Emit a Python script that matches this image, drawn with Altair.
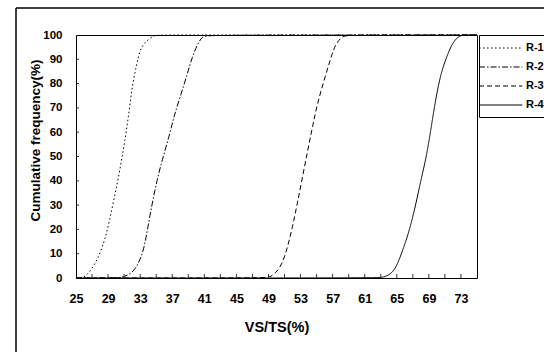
import altair as alt
import pandas as pd

series = ["R-1", "R-2", "R-3", "R-4"]

r1_x = [25, 25.6, 26.1, 26.9, 27.75, 28.6, 29.2, 29.8, 30.4, 30.9, 31.3, 31.7, 32.0, 32.5, 32.95, 33.6, 34.8, 35.4, 75]
r1_y = [0, 0, 0.5, 3.3, 8.1, 15.6, 23.9, 33.5, 43.1, 52.7, 60.9, 70.5, 78.7, 87, 93.8, 97.2, 100, 100, 100]

r2_x = [25, 30.4, 30.95, 32.0, 32.8, 33.45, 33.9, 34.5, 35.1, 35.75, 36.6, 37.2, 38.0, 38.9, 39.5, 40.1, 40.75, 41.3, 75]
r2_y = [0, 0, 0.5, 1.9, 6, 11.5, 19.8, 30.7, 40.3, 48.6, 58.1, 66.4, 74.6, 84.2, 91, 95.9, 99.5, 100, 100]

r3_x = [25, 48.6, 49.1, 49.9, 50.75, 51.4, 52.0, 52.6, 53.25, 53.9, 54.5, 55.1, 55.95, 56.8, 57.4, 58.25, 58.8, 75]
r3_y = [0, 0, 0.3, 1.9, 6, 12.9, 21.1, 30.7, 41.7, 52.7, 62.3, 71.9, 81.5, 91, 96.6, 99.5, 100, 100]

r4_x = [25, 62.7, 63.25, 64.1, 64.9, 65.75, 66.6, 67.4, 68.0, 68.7, 69.3, 69.9, 70.5, 71.2, 72.0, 72.8, 73.4, 75]
r4_y = [0, 0, 0.3, 1.2, 4, 11.5, 19.8, 30.7, 40.3, 49.9, 62.3, 74.6, 84.2, 91, 97.2, 99.7, 100, 100]

x_labels = [25, 29, 33, 37, 41, 45, 49, 53, 57, 61, 65, 69, 73]
x_ticks = [27, 29, 31, 33, 35, 37, 39, 41, 43, 45, 47, 49, 51, 53, 55, 57, 59, 61, 63, 65, 67, 69, 71, 73]
y_labels = [0, 10, 20, 30, 40, 50, 60, 70, 80, 90, 100]
y_ticks = [10, 20, 30, 40, 50, 60, 70, 80, 90]

dashes = [[1.5, 2.5], [6, 2, 1.5, 2], [5, 3], [1, 0]]

rows = []
for name, xs, ys in zip(series, [r1_x, r2_x, r3_x, r4_x], [r1_y, r2_y, r3_y, r4_y]):
    for x, y in zip(xs, ys):
        rows.append({"vs": x, "freq": y, "series": name})
df = pd.DataFrame(rows)

W, H = 401, 243
FONT = "Liberation Sans"

xscale = alt.Scale(domain=[25, 75], nice=False, zero=False)
yscale = alt.Scale(domain=[0, 100], nice=False)

x_axis = alt.Axis(values=x_labels, title="VS/TS(%)", grid=False, domain=False, tickSize=0,
                  labelOverlap=False, labelFlush=False,
                  labelFontSize=12.5, labelFontWeight="bold", labelPadding=14,
                  labelFont=FONT, titleFont=FONT, titleFontSize=14.5, titleFontWeight="bold",
                  titlePadding=16, labelColor="black", titleColor="black")
y_axis = alt.Axis(values=y_labels, title="Cumulative frequency(%)", grid=False, domain=False,
                  labelOverlap=False, labelFlush=False,
                  tickSize=0, labelFontSize=11.5, labelFontWeight="bold", labelPadding=14,
                  labelFont=FONT, titleFont=FONT, titleFontSize=13.5, titleFontWeight="bold",
                  titleX=-34, titleY=105, titleAngle=270, titleAlign="center", titleBaseline="bottom",
                  labelColor="black", titleColor="black")

lines = alt.Chart(df).mark_line(interpolate="basis", color="black", strokeWidth=1).encode(
    x=alt.X("vs:Q", scale=xscale, axis=x_axis),
    y=alt.Y("freq:Q", scale=yscale, axis=y_axis),
    strokeDash=alt.StrokeDash("series:N", scale=alt.Scale(domain=series, range=dashes),
                              legend=alt.Legend(orient="none", legendX=403, legendY=0, title=None,
                                                strokeColor="black", padding=7,
                                                symbolType="M-2.4,0H5.6", symbolSize=117,
                                                symbolStrokeWidth=1, symbolStrokeColor="black",
                                                symbolFillColor="transparent",
                                                labelOffset=28, labelFontSize=11, labelFontWeight="bold",
                                                labelFont=FONT, labelColor="black", rowPadding=8)),
)

xt = alt.Chart(pd.DataFrame({"vs": x_ticks})).mark_rule(color="#333", strokeWidth=1).encode(
    x=alt.X("vs:Q", scale=xscale, axis=x_axis), y=alt.value(H - 4), y2=alt.value(H))
yt = alt.Chart(pd.DataFrame({"freq": y_ticks})).mark_rule(color="#333", strokeWidth=1).encode(
    y=alt.Y("freq:Q", scale=yscale, axis=y_axis), x=alt.value(0), x2=alt.value(3))

one = pd.DataFrame({"a": [0]})
frame_top = alt.Chart(one).mark_rule(color="black", strokeWidth=1.5).encode(
    x=alt.value(-60), x2=alt.value(480), y=alt.value(-27))
frame_left = alt.Chart(one).mark_rule(color="black", strokeWidth=1.5).encode(
    x=alt.value(-60), y=alt.value(-27), y2=alt.value(330))

chart = alt.layer(lines, xt, yt, frame_top, frame_left).properties(
    width=W, height=H,
    autosize=alt.AutoSizeParams(type="none"),
    padding={"left": 76, "top": 35, "right": 67, "bottom": 74},
    background="white",
).configure_view(stroke="black", strokeWidth=1).configure_axis(labelFont=FONT, titleFont=FONT)

chart.save("out.html", embed_options={"renderer": "svg", "actions": False})
